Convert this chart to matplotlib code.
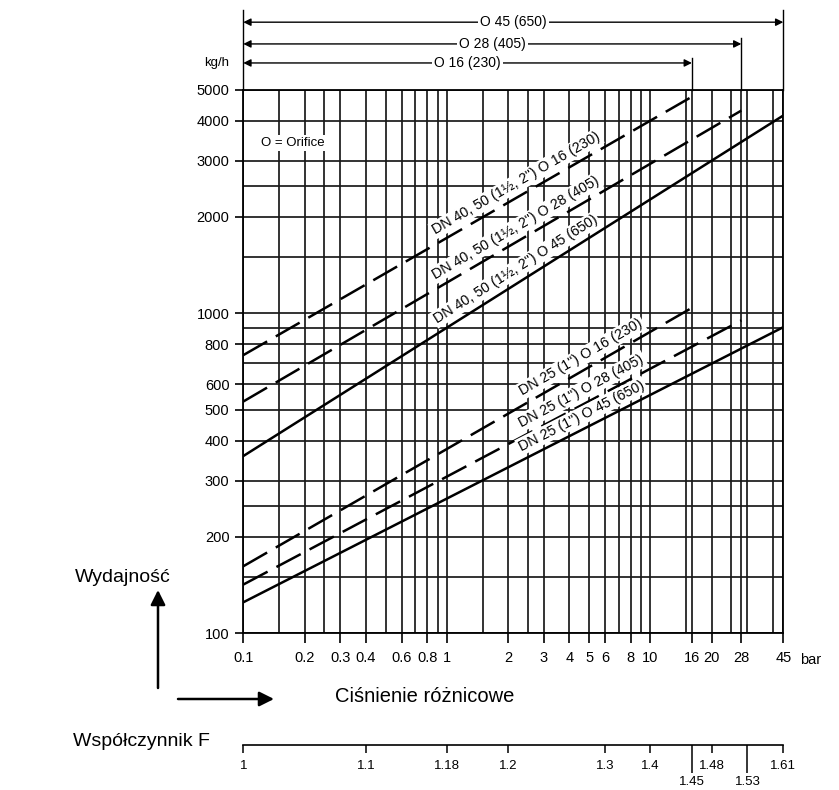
import numpy as np
import matplotlib
matplotlib.use('Agg')
import matplotlib.pyplot as plt

plt.rcParams['font.family'] = ['Liberation Sans', 'DejaVu Sans']

# differential pressure grid (bar)
x_grid = [0.1, 0.15, 0.2, 0.25, 0.3, 0.4, 0.5, 0.6, 0.7, 0.8, 0.9, 1, 1.5, 2, 2.5, 3, 4, 5, 6,
          7, 8, 9, 10, 15, 16, 20, 25, 28, 30, 40, 45]
x_ticks = [0.1, 0.2, 0.3, 0.4, 0.6, 0.8, 1, 2, 3, 4, 5, 6, 8, 10, 16, 20, 28, 45]
x_labels = ['0.1', '0.2', '0.3', '0.4', '0.6', '0.8', '1', '2', '3', '4', '5', '6', '8', '10',
            '16', '20', '28', '45']

# capacity grid (kg/h)
y_grid = [100, 150, 200, 250, 300, 400, 500, 600, 700, 800, 900, 1000, 1500, 2000, 2500, 3000,
          4000, 5000]
y_ticks = [100, 200, 300, 400, 500, 600, 800, 1000, 2000, 3000, 4000, 5000]

# capacity lines: start / end pressure and flow
curve_names = ['DN 40, 50 (1½, 2") O 16 (230)', 'DN 40, 50 (1½, 2") O 28 (405)',
               'DN 40, 50 (1½, 2") O 45 (650)', 'DN 25 (1") O 16 (230)',
               'DN 25 (1") O 28 (405)', 'DN 25 (1") O 45 (650)']
curve_p = [[0.1, 16], [0.1, 28], [0.1, 45], [0.1, 16], [0.1, 28], [0.1, 45]]
curve_q = [[740, 4750], [530, 4300], [358, 4150], [162, 1040], [142, 950], [125, 905]]
curve_dashed = [True, True, False, True, True, False]

# orifice pressure limits shown above the chart
orifice_names = ['O 45 (650)', 'O 28 (405)', 'O 16 (230)']
orifice_max_p = [45, 28, 16]

# factor F scale, aligned with the pressure axis
f_pos = [0.1, 0.4, 1, 2, 6, 10, 20, 45]
f_labels = ['1', '1.1', '1.18', '1.2', '1.3', '1.4', '1.48', '1.61']
f_pos_low = [16, 30]
f_labels_low = ['1.45', '1.53']

W, H = 839, 790
fig = plt.figure(figsize=(W / 100, H / 100), dpi=100)

x0, x1, ytop, ybot = 243.3, 783.3, 89.6, 633.3
ax = fig.add_axes([x0 / W, 1 - ybot / H, (x1 - x0) / W, (ybot - ytop) / H])
ax.set_xscale('log')
ax.set_yscale('log')
ax.set_xlim(0.1, 45)
ax.set_ylim(100, 5000)

ax.set_xticks(x_ticks, labels=x_labels)
ax.set_xticks(x_grid, minor=True)
ax.set_yticks(y_ticks, labels=[str(v) for v in y_ticks])
ax.set_yticks(y_grid, minor=True)
ax.xaxis.set_minor_formatter(plt.NullFormatter())
ax.yaxis.set_minor_formatter(plt.NullFormatter())
ax.tick_params(which='major', axis='x', length=7, width=1.2, pad=6, labelsize=10.5)
ax.tick_params(which='major', axis='y', length=6, width=1.2, pad=4, labelsize=10.5)
ax.tick_params(which='minor', length=0)
ax.grid(which='both', color='0.1', lw=1.25)
for s in ax.spines.values():
    s.set_linewidth(1.3)
ax.set_axisbelow(True)

ax.text(1.031, -0.049, 'bar', transform=ax.transAxes, ha='left', va='center', fontsize=10.5)
ax.text(0.092, 0.902, 'O = Orifice', transform=ax.transAxes, ha='center', va='center',
        fontsize=9.5, bbox=dict(boxstyle='square,pad=0.15', fc='white', ec='none'))

# capacity lines with their labels
for name, p, q, dashed, lp in zip(curve_names, curve_p, curve_q, curve_dashed,
                                  [2.35, 2.35, 2.35, 4.9, 4.9, 4.9]):
    line, = ax.plot(p, q, color='k', lw=1.8, zorder=3, solid_capstyle='butt')
    if dashed:
        line.set_dashes((11, 4))
    a = ax.transData.transform((p[0], q[0]))
    b = ax.transData.transform((p[1], q[1]))
    ang = np.degrees(np.arctan2(b[1] - a[1], b[0] - a[0]))
    k = np.log(q[1] / q[0]) / np.log(p[1] / p[0])
    ql = q[0] * (lp / p[0]) ** k
    d = 9.0
    t = np.radians(ang)
    ax.annotate(name, xy=(lp, ql), xytext=(-np.sin(t) * d, np.cos(t) * d),
                textcoords='offset points', rotation=ang, rotation_mode='anchor',
                ha='center', va='center', fontsize=10.3, zorder=4,
                bbox=dict(boxstyle='square,pad=0.12', fc='white', ec='none'))

# orifice range arrows above the chart
tr = ax.get_xaxis_transform()
arrow_y = [1.124, 1.084, 1.049]
line_top = [1.147, 1.095, 1.058]
ax.plot([0.1, 0.1], [1.0, 1.147], transform=tr, color='k', lw=1, clip_on=False)
for name, pmax, yf, yt in zip(orifice_names, orifice_max_p, arrow_y, line_top):
    ax.annotate('', xy=(0.1, yf), xytext=(pmax, yf), xycoords=tr, textcoords=tr,
                arrowprops=dict(arrowstyle='<|-|>', color='k', lw=1, mutation_scale=11,
                                shrinkA=0, shrinkB=0), annotation_clip=False)
    ax.text(np.sqrt(0.1 * pmax), yf, name, transform=tr, ha='center', va='center',
            fontsize=10, bbox=dict(boxstyle='square,pad=0.15', fc='white', ec='none'))
    ax.plot([pmax, pmax], [1.0, yt], transform=tr, color='k', lw=1, clip_on=False)
ax.text(-0.026, 1.049, 'kg/h', transform=ax.transAxes, ha='right', va='center', fontsize=9.5)

# axis captions and arrows
fig.text(75 / W, 1 - 577 / H, 'Wydajność', ha='left', va='center', fontsize=14)
fig.text(335 / W, 1 - 697 / H, 'Ciśnienie różnicowe', ha='left', va='center', fontsize=14.5)
fig.text(210 / W, 1 - 742 / H, 'Współczynnik F', ha='right', va='center', fontsize=14)
ax.annotate('', xy=(158 / W, 1 - 590 / H), xytext=(158 / W, 1 - 688 / H),
            xycoords='figure fraction', textcoords='figure fraction',
            arrowprops=dict(arrowstyle='-|>', color='k', lw=1.8, mutation_scale=22,
                            shrinkA=0, shrinkB=0))
ax.annotate('', xy=(274 / W, 1 - 699 / H), xytext=(178 / W, 1 - 699 / H),
            xycoords='figure fraction', textcoords='figure fraction',
            arrowprops=dict(arrowstyle='-|>', color='k', lw=1.8, mutation_scale=22,
                            shrinkA=0, shrinkB=0))

# factor F scale
axf = fig.add_axes([x0 / W, 1 - 745 / H, (x1 - x0) / W, 0.0001])
axf.set_xscale('log')
axf.set_xlim(0.1, 45)
axf.patch.set_visible(False)
for side in ['left', 'right', 'top']:
    axf.spines[side].set_visible(False)
axf.spines['bottom'].set_linewidth(1.2)
axf.set_yticks([])
axf.set_xticks(f_pos, labels=f_labels)
axf.set_xticks(f_pos_low, labels=f_labels_low, minor=True)
axf.tick_params(which='major', length=6, width=1.1, pad=5, labelsize=9.5)
axf.tick_params(which='minor', length=20, width=1.1, pad=2, labelsize=9.5)

fig.savefig('out.png', dpi=100)
